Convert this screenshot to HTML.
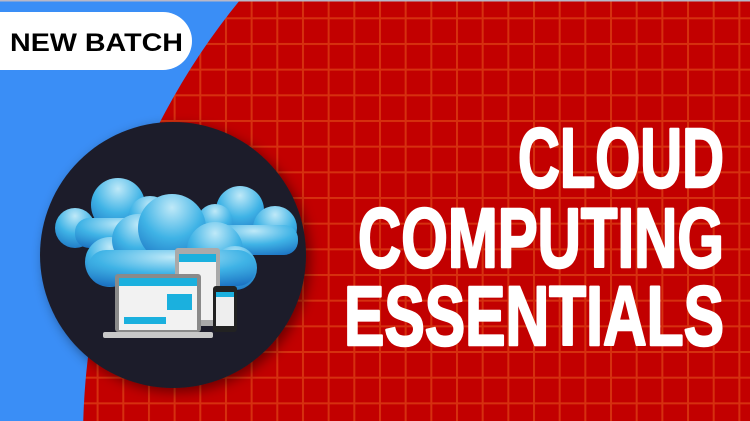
<!DOCTYPE html>
<html><head><meta charset="utf-8"><style>
html,body{margin:0;padding:0;width:750px;height:421px;overflow:hidden;background:#3a8ef6;}
svg{display:block}
</style></head><body>
<svg width="750" height="421" viewBox="0 0 750 421" xmlns="http://www.w3.org/2000/svg">
<defs>
<pattern id="grid" x="19.6" y="17.3" width="25.67" height="25.67" patternUnits="userSpaceOnUse">
<rect width="25.67" height="25.67" fill="#c20000"/>
<rect x="0" y="0" width="2" height="25.67" fill="#d6300f"/>
<rect x="0" y="0" width="25.67" height="2" fill="#d6300f"/>
</pattern>
<clipPath id="rc"><circle cx="778" cy="440" r="695"/></clipPath>
<radialGradient id="cl" cx="0.5" cy="0.2" r="0.9">
<stop offset="0" stop-color="#bfe9f8"/><stop offset="0.5" stop-color="#3fb3e6"/><stop offset="1" stop-color="#1a6fc0"/>
</radialGradient>
<filter id="sh" x="-20%" y="-20%" width="140%" height="140%"><feDropShadow dx="4" dy="4" stdDeviation="6" flood-color="#000" flood-opacity="0.45"/></filter>
</defs>
<rect width="750" height="421" fill="#3a8ef6"/>
<rect width="750" height="421" fill="url(#grid)" clip-path="url(#rc)"/>
<rect width="750" height="1.5" fill="#b8b8c8"/>
<rect x="-40" y="12" width="232" height="58" rx="29" fill="#fff"/>
<text x="10" y="51" font-family="Liberation Sans, sans-serif" font-weight="bold" font-size="25" fill="#000" textLength="173" lengthAdjust="spacingAndGlyphs">NEW BATCH</text>
<circle cx="173" cy="255" r="133" fill="#1b1f2a" filter="url(#sh)"/>
<g fill="url(#cl)">
<circle cx="75" cy="228" r="20"/><circle cx="118" cy="205" r="27"/><circle cx="150" cy="218" r="22"/><rect x="75" y="218" width="90" height="30" rx="14"/>
<circle cx="240" cy="210" r="24"/><circle cx="215" cy="222" r="18"/><circle cx="275" cy="228" r="22"/><rect x="210" y="225" width="88" height="30" rx="14"/>
<circle cx="110" cy="262" r="25"/><circle cx="138" cy="240" r="26"/><circle cx="172" cy="228" r="34"/><circle cx="215" cy="250" r="28"/><circle cx="235" cy="268" r="22"/><rect x="88" y="250" width="168" height="36" rx="18"/>
</g>
<rect x="175" y="248" width="45" height="78" rx="3" fill="#aaa"/><rect x="179" y="254" width="37" height="66" fill="#f1f1f1"/><rect x="179" y="254" width="37" height="8" fill="#1bb0de"/>
<rect x="115" y="274" width="86" height="58" rx="3" fill="#8a8a8a"/><rect x="119" y="278" width="78" height="52" fill="#f2f2f2"/><rect x="119" y="278" width="78" height="8" fill="#1bb0de"/>
<rect x="167" y="294" width="25" height="16" fill="#1bb0de"/><rect x="124" y="317" width="42" height="7" fill="#1bb0de"/>
<rect x="103" y="332" width="110" height="6" rx="2" fill="#c8c8c8"/>
<rect x="213" y="286" width="24" height="46" rx="3" fill="#222"/><rect x="216" y="292" width="18" height="34" fill="#eee"/><rect x="216" y="292" width="18" height="5" fill="#1bb0de"/>
<g font-family="Liberation Sans Narrow, Liberation Sans, sans-serif" font-weight="bold" font-size="84" fill="#fff" stroke="#fff" stroke-width="2.5" stroke-linejoin="round">
<text x="518" y="187" textLength="206" lengthAdjust="spacingAndGlyphs">CLOUD</text>
<text x="358" y="267" textLength="366" lengthAdjust="spacingAndGlyphs">COMPUTING</text>
<text x="344" y="345" textLength="380" lengthAdjust="spacingAndGlyphs">ESSENTIALS</text>
</g>
</svg>
</body></html>
